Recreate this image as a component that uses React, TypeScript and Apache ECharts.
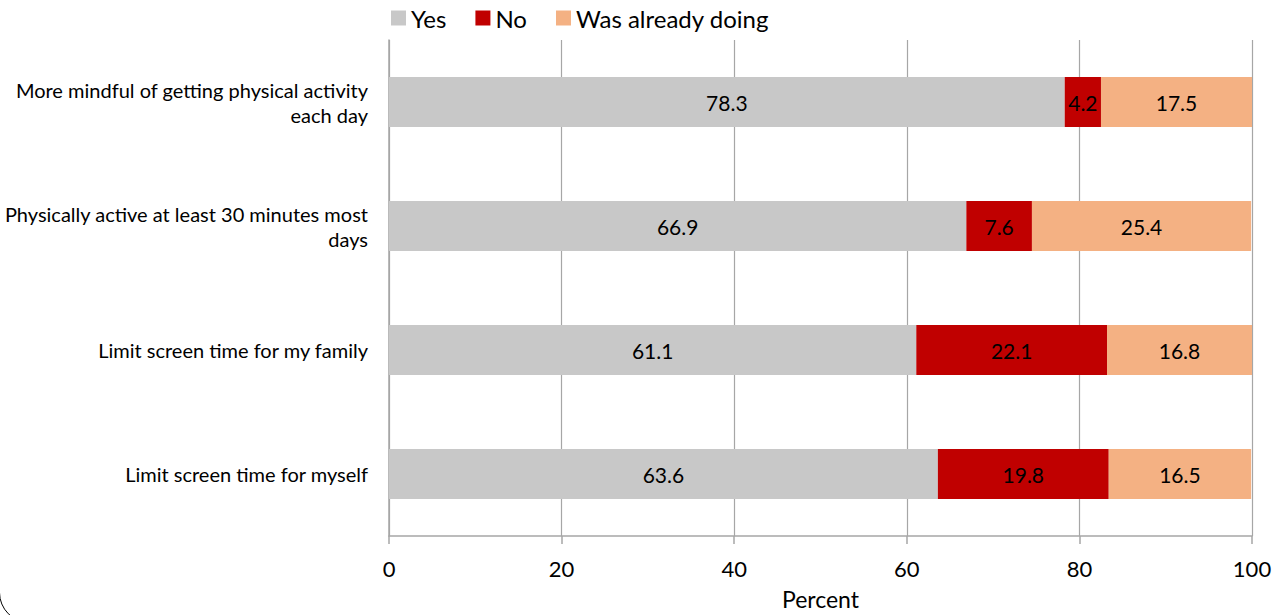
import React, { useEffect, useRef } from "react";
import * as echarts from "echarts";

const categories = [
  "More mindful of getting physical activity each day",
  "Physically active at least 30 minutes most days",
  "Limit screen time for my family",
  "Limit screen time for myself",
];
const yesValues = [78.3, 66.9, 61.1, 63.6];
const noValues = [4.2, 7.6, 22.1, 19.8];
const alreadyValues = [17.5, 25.4, 16.8, 16.5];
const seriesNames = ["Yes", "No", "Was already doing"];
const xTicks = [0, 20, 40, 60, 80, 100];

const FONT = "Lato, 'Open Sans', sans-serif";

function wrap(s: string, maxChars: number) {
  const words = s.split(" ");
  const lines: string[] = [];
  let cur = "";
  for (const w of words) {
    const next = cur ? cur + " " + w : w;
    if (next.length > maxChars && cur) {
      lines.push(cur);
      cur = w;
    } else cur = next;
  }
  if (cur) lines.push(cur);
  return lines.join("\n");
}

export default function App() {
  const ref = useRef<HTMLDivElement>(null);
  useEffect(() => {
    if (!ref.current) return;
    const chart = echarts.init(ref.current, undefined, { renderer: "svg" });
    const label = {
      show: true,
      position: "inside",
      color: "#000",
      fontSize: 21,
      fontFamily: FONT,
      formatter: (p: any) => p.value.toFixed(1),
    };
    chart.setOption({
      animation: false,
      textStyle: { fontFamily: FONT },
      legend: {
        left: 386,
        top: 1,
        itemWidth: 15,
        itemHeight: 15,
        itemGap: 29,
        icon: "rect",
        textStyle: { fontSize: 24, color: "#000", fontFamily: FONT },
        data: seriesNames,
      },
      grid: { left: 389, right: 31, top: 40, bottom: 78, containLabel: false },
      xAxis: {
        type: "value",
        min: xTicks[0],
        max: xTicks[xTicks.length - 1],
        interval: 20,
        name: "Percent",
        nameLocation: "middle",
        nameGap: 51,
        nameTextStyle: { fontSize: 23, color: "#000", fontFamily: FONT },
        axisLine: { show: true, lineStyle: { color: "#A6A6A6", width: 1.5 } },
        axisTick: { show: true, length: 8, lineStyle: { color: "#A6A6A6", width: 1.5 } },
        axisLabel: { fontSize: 22, color: "#000", margin: 21, fontFamily: FONT },
        splitLine: { show: true, lineStyle: { color: "#A6A6A6", width: 1.2 } },
      },
      yAxis: {
        type: "category",
        inverse: true,
        data: categories,
        axisLine: { show: true, lineStyle: { color: "#A6A6A6", width: 1.5 } },
        axisTick: { show: false },
        axisLabel: {
          fontSize: 20,
          color: "#000",
          margin: 21,
          align: "right",
          lineHeight: 25,
          fontFamily: FONT,
          formatter: (v: string) => wrap(v, 42),
        },
      },
      series: [
        { name: seriesNames[0], type: "bar", stack: "t", data: yesValues, barWidth: 50, itemStyle: { color: "#C8C8C8" }, label },
        { name: seriesNames[1], type: "bar", stack: "t", data: noValues, barWidth: 50, itemStyle: { color: "#C00000" }, label },
        { name: seriesNames[2], type: "bar", stack: "t", data: alreadyValues, barWidth: 50, itemStyle: { color: "#F4B183" }, label },
      ],
      graphic: [
        {
          type: "rect",
          left: -3,
          top: -100,
          shape: { width: 1300, height: 720, r: 30 },
          style: { fill: "none", stroke: "#000", lineWidth: 1 },
          silent: true,
        },
      ],
    });
    return () => chart.dispose();
  }, []);
  return <div ref={ref} style={{ width: 1283, height: 615, position: "absolute", left: 0, top: 0 }} />;
}
